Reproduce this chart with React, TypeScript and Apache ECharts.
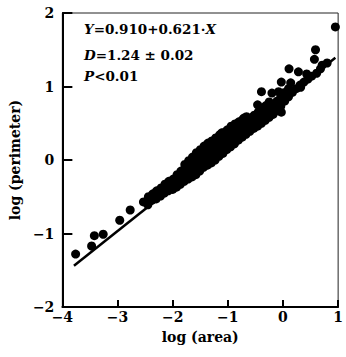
import React, { useEffect, useRef } from "react";
import * as echarts from "echarts";

const xTicks = [-4, -3, -2, -1, 0, 1];
const yTicks = [-2, -1, 0, 1, 2];

// regression line endpoints as drawn in the figure
const fitLine: [number, number][] = [
  [-3.79, -1.44],
  [0.95, 1.39],
];

// isolated points (log area, log perimeter)
const outlierPoints: [number, number][] = [
  [-3.76, -1.28], [-3.47, -1.17], [-3.42, -1.03], [-3.26, -1.01],
  [-2.96, -0.82], [-2.77, -0.68], [-2.53, -0.57], [-2.36, -0.46],
  [0.95, 1.81], [0.59, 1.5], [0.57, 1.37], [0.71, 1.29], [0.11, 1.24],
  [0.28, 1.2], [0.43, 1.17], [0.61, 1.18], [-0.03, 1.06], [0.14, 1.05],
  [0.32, 0.99], [-0.39, 0.93], [-0.2, 0.91], [-0.08, 0.93], [-0.46, 0.75],
  [-0.25, 0.79], [-0.03, 0.65], [-0.2, 0.68], [-0.54, 0.59], [-0.34, 0.59],
  [-0.71, 0.57], [-0.88, 0.45], [-1.11, 0.37], [-1.33, 0.18],
];

// dense cloud of points along the band
const bandPoints: [number, number][] = [
  [-2.45, -0.61], [-2.45, -0.55], [-2.44, -0.5],
  [-2.38, -0.55], [-2.37, -0.49],
  [-2.3, -0.53], [-2.3, -0.47], [-2.29, -0.42],
  [-2.22, -0.49], [-2.22, -0.44], [-2.21, -0.38],
  [-2.15, -0.45], [-2.15, -0.39], [-2.14, -0.33],
  [-2.08, -0.42], [-2.08, -0.36], [-2.07, -0.29],
  [-2.0, -0.4], [-2.0, -0.33], [-1.99, -0.26],
  [-1.93, -0.37], [-1.93, -0.28], [-1.92, -0.2],
  [-1.86, -0.33], [-1.86, -0.24], [-1.85, -0.15],
  [-1.79, -0.29], [-1.79, -0.2], [-1.78, -0.12], [-1.78, -0.06],
  [-1.72, -0.26], [-1.72, -0.16], [-1.71, -0.08], [-1.71, -0.01],
  [-1.65, -0.23], [-1.65, -0.12], [-1.64, -0.03], [-1.64, 0.04],
  [-1.58, -0.2], [-1.58, -0.09], [-1.57, 0.01], [-1.57, 0.1],
  [-1.51, -0.15], [-1.51, -0.04], [-1.5, 0.06], [-1.5, 0.14],
  [-1.44, -0.1], [-1.44, 0.0], [-1.43, 0.1], [-1.43, 0.19],
  [-1.37, -0.07], [-1.37, 0.05], [-1.36, 0.14], [-1.36, 0.23],
  [-1.3, -0.04], [-1.3, 0.08], [-1.29, 0.17], [-1.29, 0.26],
  [-1.23, 0.0], [-1.23, 0.12], [-1.22, 0.21], [-1.22, 0.3],
  [-1.16, 0.05], [-1.16, 0.16], [-1.15, 0.25], [-1.15, 0.34],
  [-1.09, 0.09], [-1.09, 0.2], [-1.08, 0.29], [-1.08, 0.37],
  [-1.02, 0.14], [-1.02, 0.24], [-1.01, 0.33], [-1.01, 0.41],
  [-0.95, 0.18], [-0.95, 0.28], [-0.94, 0.37], [-0.94, 0.46],
  [-0.88, 0.22], [-0.88, 0.32], [-0.87, 0.41], [-0.87, 0.49],
  [-0.81, 0.27], [-0.81, 0.36], [-0.8, 0.44], [-0.8, 0.52],
  [-0.74, 0.31], [-0.74, 0.4], [-0.73, 0.48], [-0.73, 0.55],
  [-0.67, 0.35], [-0.67, 0.44], [-0.66, 0.52], [-0.66, 0.59],
  [-0.6, 0.39], [-0.6, 0.48], [-0.59, 0.56],
  [-0.53, 0.43], [-0.53, 0.52], [-0.52, 0.61],
  [-0.46, 0.46], [-0.46, 0.56], [-0.45, 0.65],
  [-0.39, 0.5], [-0.39, 0.6], [-0.38, 0.7],
  [-0.32, 0.54], [-0.32, 0.64], [-0.31, 0.74],
  [-0.25, 0.58], [-0.25, 0.69],
  [-0.18, 0.62], [-0.18, 0.74],
  [-0.11, 0.67], [-0.11, 0.8],
  [-0.04, 0.73], [-0.04, 0.86],
  [0.03, 0.8], [0.03, 0.92],
  [0.1, 0.86], [0.1, 0.97],
  [0.17, 0.92], [0.24, 0.97], [0.31, 1.02], [0.38, 1.06],
  [0.45, 1.1], [0.52, 1.14], [0.68, 1.24], [0.8, 1.32],
];

const annotationLines = [
  "{i|Y}=0.910+0.621·{i|X}",
  "{i|D}=1.24 ± 0.02",
  "{i|P}<0.01",
];

const FONT = "'DejaVu Serif', 'Liberation Serif', serif";

function fmt(v: number) {
  return v < 0 ? "\u2212" + Math.abs(v) : String(v);
}

export default function App() {
  const ref = useRef<HTMLDivElement>(null);

  useEffect(() => {
    if (!ref.current) return;
    const chart = echarts.init(ref.current, undefined, { renderer: "svg" });
    const baseText = {
      fontFamily: FONT,
      fontWeight: "bold" as const,
      fontSize: 13.5,
      fill: "#000",
    };
    const annY = [29, 55, 76];
    chart.setOption({
      animation: false,
      backgroundColor: "#fff",
      grid: {
        left: 51,
        right: 3,
        top: 13,
        bottom: 50,
        show: true,
        borderColor: "#222",
        borderWidth: 1,
      },
      xAxis: {
        type: "value",
        min: xTicks[0],
        max: xTicks[xTicks.length - 1],
        interval: 1,
        name: "log (area)",
        nameLocation: "middle",
        nameGap: 23,
        nameTextStyle: {
          fontFamily: FONT,
          fontWeight: "bold",
          fontSize: 14,
          color: "#000",
        },
        axisLine: { onZero: false, lineStyle: { color: "#000", width: 2 } },
        axisTick: { inside: true, length: 7, lineStyle: { color: "#000", width: 2 } },
        axisLabel: {
          formatter: (v: number) => fmt(v),
          fontFamily: FONT,
          fontWeight: "bold",
          fontSize: 14,
          color: "#000",
          margin: 3,
        },
        splitLine: { show: false },
      },
      yAxis: {
        type: "value",
        min: yTicks[0],
        max: yTicks[yTicks.length - 1],
        interval: 1,
        name: "log (perimeter)",
        nameLocation: "middle",
        nameGap: 31,
        nameTextStyle: {
          fontFamily: FONT,
          fontWeight: "bold",
          fontSize: 14,
          color: "#000",
        },
        axisLine: { onZero: false, lineStyle: { color: "#000", width: 2 } },
        axisTick: { inside: true, length: 10, lineStyle: { color: "#000", width: 2 } },
        axisLabel: {
          formatter: (v: number) => fmt(v),
          fontFamily: FONT,
          fontWeight: "bold",
          fontSize: 14,
          color: "#000",
          margin: 8,
        },
        splitLine: { show: false },
      },
      series: [
        {
          type: "line",
          data: fitLine,
          showSymbol: false,
          symbol: "none",
          lineStyle: { color: "#000", width: 2.5 },
          z: 3,
        },
        {
          type: "scatter",
          data: bandPoints.concat(outlierPoints),
          symbol: "circle",
          symbolSize: 9,
          itemStyle: { color: "#000", opacity: 1 },
          z: 4,
        },
      ],
      graphic: annotationLines.map((t, i) => ({
        type: "text",
        x: 84,
        y: annY[i],
        style: {
          ...baseText,
          text: t,
          verticalAlign: "middle",
          align: "left",
          rich: {
            i: { ...baseText, fontStyle: "italic" },
          },
        },
        z: 10,
      })),
    });
    return () => chart.dispose();
  }, []);

  return (
    <div
      ref={ref}
      style={{ position: "fixed", left: 0, top: 0, width: 346, height: 357, background: "#fff" }}
    />
  );
}
